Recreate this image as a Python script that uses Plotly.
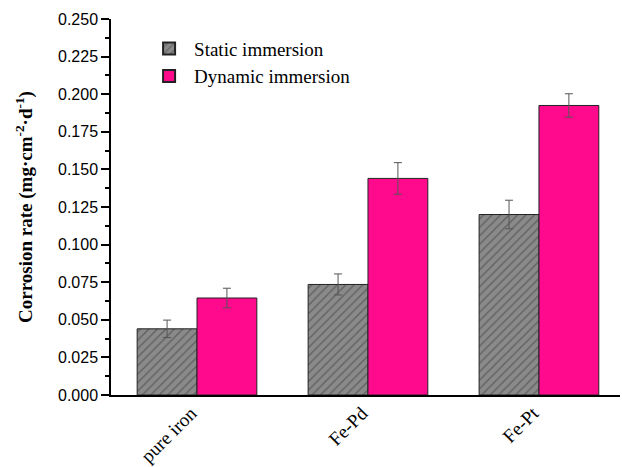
import plotly.graph_objects as go

categories = ["pure iron", "Fe-Pd", "Fe-Pt"]
static_vals = [0.0440, 0.0735, 0.1200]
static_err = [0.0058, 0.0070, 0.0095]
dynamic_vals = [0.0645, 0.1440, 0.1925]
dynamic_err = [0.0065, 0.0105, 0.0078]

fig = go.Figure()
fig.add_trace(go.Bar(
    x=categories, y=static_vals, name="Static immersion",
    marker=dict(color="#8a8a8a", line=dict(color="#222", width=1),
                pattern=dict(shape="/", bgcolor="#8a8a8a", fgcolor="#333333",
                             size=6, solidity=0.22, fillmode="overlay")),
    error_y=dict(type="data", array=static_err, color="#555", thickness=1, width=4),
))
fig.add_trace(go.Bar(
    x=categories, y=dynamic_vals, name="Dynamic immersion",
    marker=dict(color="#FF0A8C", line=dict(color="#222", width=1)),
    error_y=dict(type="data", array=dynamic_err, color="#555", thickness=1, width=4),
))

fig.update_layout(
    width=622, height=467,
    margin=dict(l=111, r=2, t=19, b=72, autoexpand=False),
    plot_bgcolor="white", paper_bgcolor="white",
    barmode="group", bargap=0.3, bargroupgap=0,
    showlegend=True,
    legend=dict(x=0.065, y=0.972, xanchor="left", yanchor="top",
                font=dict(family="Liberation Serif", size=19, color="black"),
                bgcolor="rgba(0,0,0,0)", itemsizing="constant", tracegroupgap=0,
                itemwidth=40),
    font=dict(family="Liberation Sans", color="black"),
)
fig.update_xaxes(
    range=[-0.503, 2.474], showline=True, linecolor="black", linewidth=1.5,
    ticks="", tickangle=-45, automargin=False,
    tickfont=dict(family="Liberation Serif", size=19, color="black"),
    ticklabelshift=-6, ticklabelstandoff=-2,
    mirror=False, showgrid=False,
)
fig.update_yaxes(
    range=[0, 0.25], dtick=0.025, tickformat=".3f", automargin=False,
    showline=True, linecolor="black", linewidth=1.5,
    ticks="outside", ticklen=8, tickwidth=1.5, tickcolor="black",
    minor=dict(dtick=0.0125, ticks="outside", ticklen=4, tickwidth=1.5, tickcolor="black"),
    tickfont=dict(family="Liberation Sans", size=16, color="black"),
    showgrid=False, zeroline=False,
    title=dict(text="<b>Corrosion rate (mg·cm<sup>-2</sup>·d<sup>-1</sup>)</b>",
               font=dict(family="Liberation Serif", size=19, color="black"), standoff=20),
)

fig.write_html("out.html", config={"displayModeBar": False},
               post_script="document.body.style.margin='0px';document.body.style.overflow='hidden';")
